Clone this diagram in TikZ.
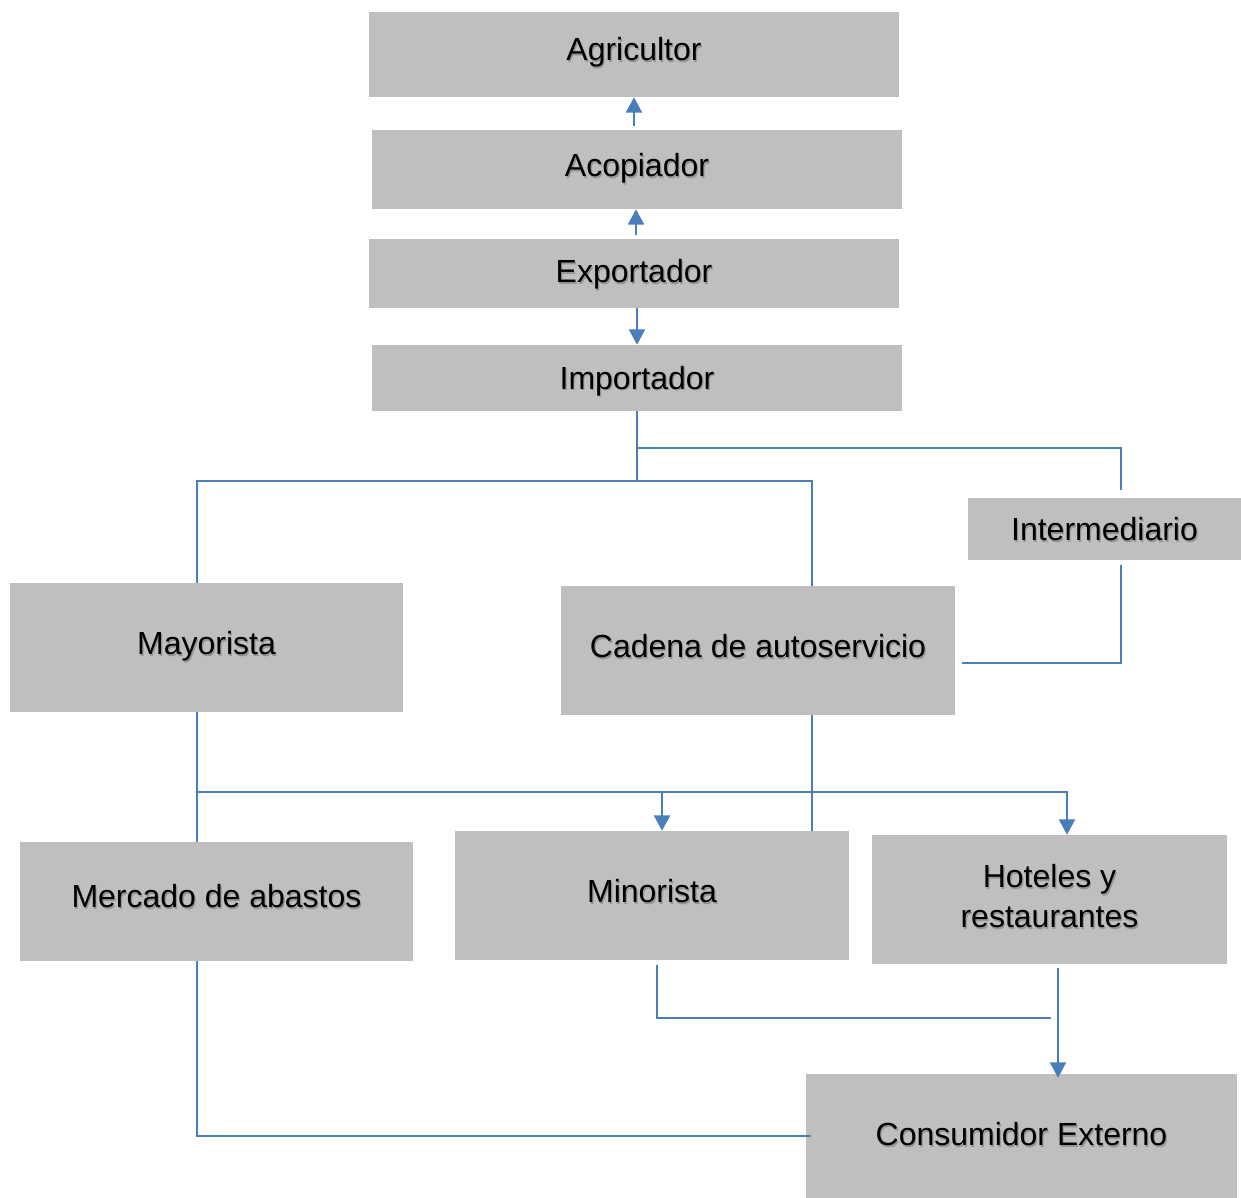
\documentclass[tikz,border=0pt]{standalone}
\usepackage{fontspec}
\setmainfont{Liberation Sans}
\usetikzlibrary{calc,arrows.meta}
\definecolor{boxgray}{HTML}{BFBFBF}
\definecolor{linkblue}{HTML}{4A7EBB}
\definecolor{shadowgray}{HTML}{959595}
\tikzset{
  box/.style={fill=boxgray, draw=none, inner sep=0pt},
  txt/.style={inner sep=0pt, align=center, text height=17.2pt, text depth=0pt,
    font=\fontsize{24}{30}\selectfont},
  txttwo/.style={inner sep=0pt, align=center,
    font=\fontsize{24}{30}\selectfont},
  ln/.style={draw=linkblue, line width=1.5pt},
  arr/.style={ln, -{Triangle[length=11.5pt,width=12pt]}}
}
% box by its pixel corners: name, x1, y1, x2, y2, text offset (px, down), text
\newcommand\pbox[7]{%
  \node[box, minimum width={(#4-#2)*0.75pt}, minimum height={(#5-#3)*0.75pt},
    label={[txt, text=shadowgray, xshift=0.9pt, yshift={-(#6)*0.75pt-0.9pt}]center:#7},
    label={[txt, yshift={-(#6)*0.75pt}]center:#7}]
    (#1) at ({(#2+#4)/2},{(#3+#5)/2}) {};}
\begin{document}
\begin{tikzpicture}[x=0.75pt, y=-0.75pt]
\useasboundingbox (0,0) rectangle (1241,1198);

\pbox{agri}{369}{12}{899}{97}{-5}{Agricultor}
\pbox{acop}{372}{130}{902}{209}{-4}{Acopiador}
\pbox{expo}{369}{239}{899}{308}{-2}{Exportador}
\pbox{imp}{372}{345}{902}{411}{0}{Importador}
\pbox{inter}{968}{498}{1241}{560}{0.5}{Intermediario}
\pbox{may}{10}{583}{403}{712}{-4}{Mayorista}
\pbox{cad}{561}{586}{955}{715}{-4}{Cadena de autoservicio}
\pbox{merc}{20}{842}{413}{961}{-5}{Mercado de abastos}
\pbox{min}{455}{831}{849}{960}{-4}{Minorista}
\node[box, minimum width={355*0.75pt}, minimum height={129*0.75pt},
  label={[txttwo, text=shadowgray, xshift=0.9pt, yshift={3*0.75pt-0.9pt}]center:Hoteles y\\restaurantes},
  label={[txttwo, yshift={3*0.75pt}]center:Hoteles y\\restaurantes}]
  (hot) at (1049.5,899.5) {};
\pbox{cons}{806}{1074}{1237}{1198}{-1.5}{Consumidor Externo}

% upper chain
\draw[arr] ($(agri.south)+(0,29)$) -- (agri.south);
\draw[arr] ($(acop.south)+(-1,26)$) -- ($(acop.south)+(-1,0)$);
\draw[arr] (expo.south -| imp.north) -- (imp.north);

% from Importador
\draw[ln] (imp.south) -- ($(imp.south)+(0,70)$);
\draw[ln] ($(imp.south)+(0,37)$) -| ($(inter.north)+(16.5,-8)$);
\draw[ln] (may.north) ++(-10,0) |- ($(cad.north)+(54,-105)$) -- ($(cad.north)+(54,0)$);

% Intermediario to Cadena de autoservicio
\draw[ln] ($(inter.south)+(16.5,5)$) |- ($(cad.east)+(7,12.5)$);

% Mayorista branch
\draw[ln] ($(may.south)+(-10,0)$) -- ($(merc.north)+(-20,0)$);
\draw[arr] ($(may.south)+(-10,80)$) -| ($(hot.north)+(17.5,0)$);
\draw[arr] ($(min.north)+(10,-39)$) -- ($(min.north)+(10,0)$);

% Cadena de autoservicio to Minorista
\draw[ln] ($(cad.south)+(54,0)$) -- ($(cad.south |- min.north)+(54,0)$);

% towards Consumidor Externo
\draw[ln] ($(min.south)+(5,5)$) |- ($(hot.south)+(1.5,54)$);
\draw[arr] ($(hot.south)+(8.5,4)$) -- ($(cons.north)+(36.5,4)$);
\draw[ln] ($(merc.south)+(-20,0)$) |- ($(cons.west)+(5,0)$);
\end{tikzpicture}
\end{document}
